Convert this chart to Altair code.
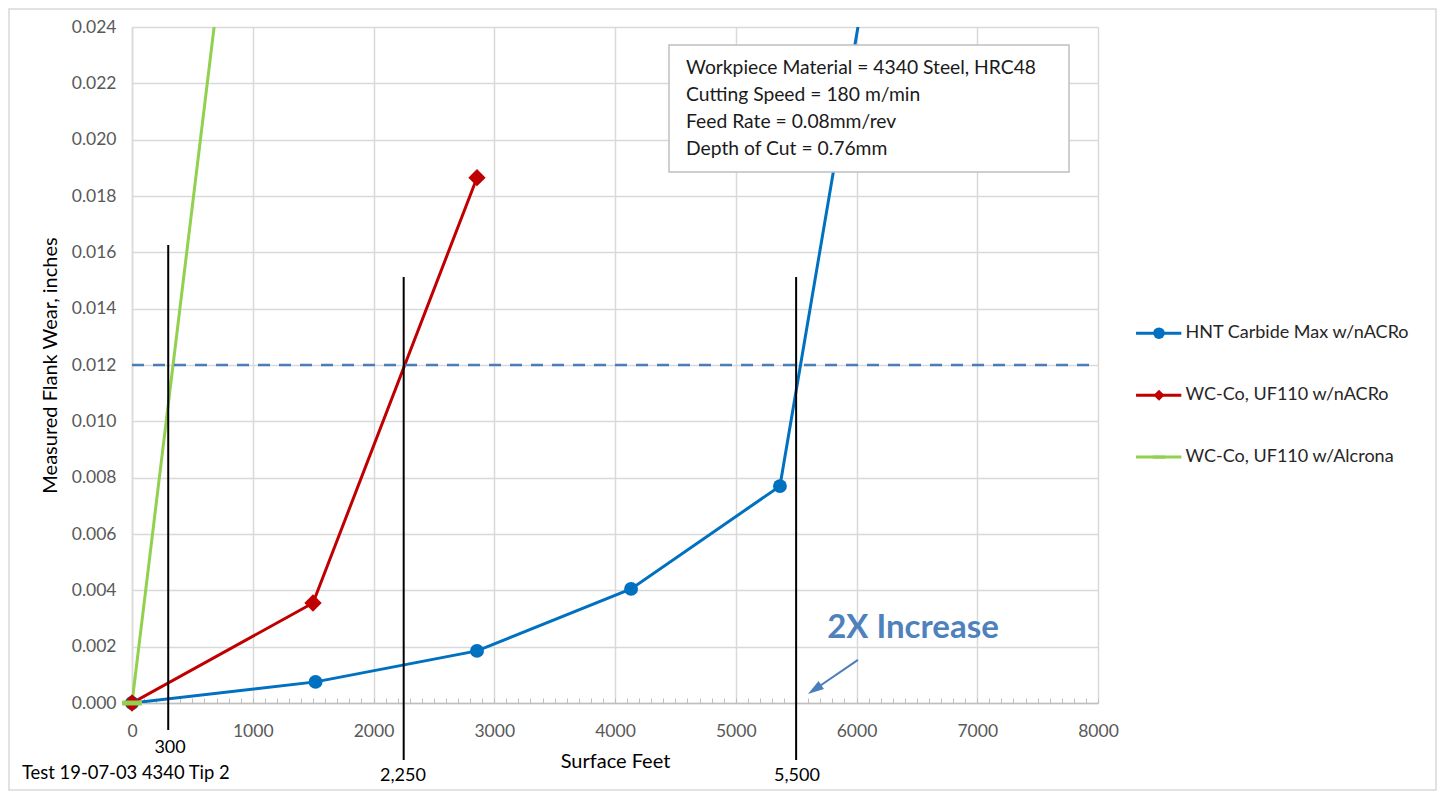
import altair as alt
import pandas as pd

FONT = "Lato"

# ---------------- data ----------------
series = ["HNT Carbide Max w/nACRo", "WC-Co, UF110 w/nACRo", "WC-Co, UF110 w/Alcrona"]
colors = ["#0070c0", "#c00000", "#92d050"]

blue_x = [0, 1520, 2857, 4133, 5366, 6650]
blue_y = [0.0, 0.00075, 0.00185, 0.00405, 0.0077, 0.0401]
red_x = [0, 1499, 2857]
red_y = [0.0, 0.00355, 0.01865]
green_x = [0, 1490]
green_y = [0.0, 0.0526]

threshold = 0.012
marker_x = [300, 2250, 5500]
marker_labels = ["300", "2,250", "5,500"]
note_text = "Test 19-07-03 4340 Tip 2"
info_lines = [
    "Workpiece Material = 4340 Steel, HRC48",
    "Cutting Speed = 180 m/min",
    "Feed Rate = 0.08mm/rev",
    "Depth of Cut = 0.76mm",
]
callout = "2X Increase"

x_ticks = [0, 1000, 2000, 3000, 4000, 5000, 6000, 7000, 8000]
minor_ticks = list(range(0, 8001, 100))
y_ticks = [0.0, 0.002, 0.004, 0.006, 0.008, 0.010, 0.012, 0.014, 0.016, 0.018, 0.020, 0.022, 0.024]

# ---------------- tables ----------------
rows = []
for name, xs_, ys_ in zip(series, [blue_x, red_x, green_x], [blue_y, red_y, green_y]):
    for a, b in zip(xs_, ys_):
        rows.append({"series": name, "x": a, "y": b})
df = pd.DataFrame(rows)

W, H = 966, 676
xs = alt.Scale(domain=[0, 8000], nice=False, zero=False)
ys = alt.Scale(domain=[0, 0.024], nice=False, zero=False)
cscale = alt.Scale(domain=series, range=colors)

yaxis = alt.Axis(values=y_ticks, format=".3f", grid=True, gridColor="#d9d9d9", gridWidth=1.5,
                 domainColor="#d9d9d9", domainWidth=1.5, ticks=False, labelPadding=16,
                 labelFont=FONT, labelFontSize=17.5, labelColor="#595959",
                 title="Measured Flank Wear, inches", titleFont=FONT, titleFontSize=20,
                 titleFontWeight="normal", titleColor="#000000", titlePadding=11)
xaxis_main = alt.Axis(values=x_ticks, format="d", grid=True, gridColor="#d9d9d9", gridWidth=1.5,
                      domainColor="#bfbfbf", domainWidth=1.5, ticks=False, labelPadding=19,
                      labelFlush=False, labelFont=FONT, labelFontSize=17.5, labelColor="#595959",
                      title="Surface Feet", titleFont=FONT, titleFontSize=20,
                      titleFontWeight="normal", titleColor="#000000", titlePadding=12)
xaxis_minor = alt.Axis(orient="top", offset=-H, values=minor_ticks, labels=False, domain=False,
                       grid=False, ticks=True, tickSize=5, tickColor="#bfbfbf", tickWidth=1, title="")

lines = alt.Chart(df).mark_line(strokeWidth=3, clip=True).encode(
    x=alt.X("x:Q", scale=xs, axis=xaxis_main),
    y=alt.Y("y:Q", scale=ys, axis=yaxis),
    color=alt.Color("series:N", scale=cscale, legend=None))

# threshold dashed line (hosts minor tick axis)
thr_df = pd.DataFrame({"x0": [0], "x1": [8000], "y": [threshold]})
thr = alt.Chart(thr_df).mark_rule(color="#4a7ebb", strokeWidth=2.5, strokeDash=[12, 9]).encode(
    x=alt.X("x0:Q", scale=xs, axis=xaxis_minor), x2="x1:Q",
    y=alt.Y("y:Q", scale=ys, axis=None))

DASH = "M-1,-0.25H1V0.25H-1Z"
pt_styles = [("circle", 193), ("diamond", 300), (DASH, 400)]
point_layers = []
for name, col, (shp, sz) in zip(series, colors, pt_styles):
    point_layers.append(
        alt.Chart(df).transform_filter(
            (alt.datum.series == name) & (alt.datum.y <= 0.024)
        ).mark_point(filled=True, opacity=1, shape=shp, size=sz, color=col).encode(
            x=alt.X("x:Q", scale=xs, axis=None), y=alt.Y("y:Q", scale=ys, axis=None)))

# vertical marker lines
v_df = pd.DataFrame({"x": marker_x, "top": [0.01626, 0.01512, 0.01512],
                     "bot": [-0.00096, -0.00202, -0.00202]})
vlines = alt.Chart(v_df).mark_rule(color="black", strokeWidth=2).encode(
    x=alt.X("x:Q", scale=xs, axis=None), y=alt.Y("top:Q", scale=ys, axis=None), y2="bot:Q")

lab_df = pd.DataFrame({"t": marker_labels, "x": [315, 2244, 5507],
                       "y": [-0.0016, -0.00259, -0.00259]})
vlabels = alt.Chart(lab_df).mark_text(font=FONT, fontSize=18, color="#000000",
                                      align="center", baseline="middle").encode(
    x=alt.X("x:Q", scale=xs, axis=None), y=alt.Y("y:Q", scale=ys, axis=None), text="t:N")

note_df = pd.DataFrame({"t": [note_text], "x": [-911], "y": [-0.00248]})
note = alt.Chart(note_df).mark_text(font=FONT, fontSize=18.4, color="#000000",
                                    align="left", baseline="middle").encode(
    x=alt.X("x:Q", scale=xs, axis=None), y=alt.Y("y:Q", scale=ys, axis=None), text="t:N")

# info box
box_df = pd.DataFrame({"x0": [4447], "x1": [7760], "y0": [0.01885], "y1": [0.02336]})
box = alt.Chart(box_df).mark_rect(fill="white", stroke="#bfbfbf", strokeWidth=1.5).encode(
    x=alt.X("x0:Q", scale=xs, axis=None), x2="x1:Q",
    y=alt.Y("y0:Q", scale=ys, axis=None), y2="y1:Q")
info_df = pd.DataFrame({"t": info_lines, "x": [4588] * 4,
                        "y": [0.02254, 0.02158, 0.02062, 0.01967]})
info = alt.Chart(info_df).mark_text(font=FONT, fontSize=19.3, color="#1a1a1a",
                                    align="left", baseline="middle").encode(
    x=alt.X("x:Q", scale=xs, axis=None), y=alt.Y("y:Q", scale=ys, axis=None), text="t:N")

# callout + arrow
call_df = pd.DataFrame({"t": [callout], "x": [6468], "y": [0.00266]})
call = alt.Chart(call_df).mark_text(font=FONT, fontSize=33, fontWeight="bold", color="#4f81bd",
                                    align="center", baseline="middle").encode(
    x=alt.X("x:Q", scale=xs, axis=None), y=alt.Y("y:Q", scale=ys, axis=None), text="t:N")
arr_df = pd.DataFrame({"x0": [6012], "y0": [0.00153], "x1": [5653], "y1": [0.00048]})
arrow = alt.Chart(arr_df).mark_rule(color="#4a7ebb", strokeWidth=2).encode(
    x=alt.X("x0:Q", scale=xs, axis=None), y=alt.Y("y0:Q", scale=ys, axis=None),
    x2="x1:Q", y2="y1:Q")
head = alt.Chart(arr_df).mark_point(filled=True, opacity=1, color="#4a7ebb",
                                    shape="M0,-1L0.6,1L-0.6,1Z", size=256, angle=236).encode(
    x=alt.X("x1:Q", scale=xs, axis=None), y=alt.Y("y1:Q", scale=ys, axis=None))

# custom legend
leg_df = pd.DataFrame({"series": series, "y": [0.01313, 0.01093, 0.00873],
                       "lx0": [8315] * 3, "lx1": [8690] * 3, "mx": [8505] * 3, "tx": [8725] * 3})
leg_lines = alt.Chart(leg_df).mark_rule(strokeWidth=3).encode(
    x=alt.X("lx0:Q", scale=xs, axis=None), x2="lx1:Q",
    y=alt.Y("y:Q", scale=ys, axis=None),
    color=alt.Color("series:N", scale=cscale, legend=None))
leg_pts = []
for name, col, (shp, sz) in zip(series, colors, [("circle", 133), ("diamond", 121), (DASH, 150)]):
    leg_pts.append(alt.Chart(leg_df).transform_filter(alt.datum.series == name).mark_point(
        filled=True, opacity=1, shape=shp, size=sz, color=col).encode(
        x=alt.X("mx:Q", scale=xs, axis=None), y=alt.Y("y:Q", scale=ys, axis=None)))
leg_text = alt.Chart(leg_df).mark_text(font=FONT, fontSize=18, color="#262626",
                                       align="left", baseline="middle").encode(
    x=alt.X("tx:Q", scale=xs, axis=None), y=alt.Y("y:Q", scale=ys, axis=None), text="series:N")

border = alt.Chart(thr_df).mark_rect(fillOpacity=0, stroke="#d9d9d9", strokeWidth=1.5).encode(
    x=alt.value(-123), x2=alt.value(1304), y=alt.value(-18), y2=alt.value(763))

chart = alt.layer(
    lines, thr, *point_layers, vlines, vlabels, note, box, info, call, arrow, head,
    leg_lines, *leg_pts, leg_text, border
).resolve_axis(x="independent", y="independent").properties(
    width=W, height=H,
    autosize=alt.AutoSizeParams(type="none"),
    padding={"left": 124, "top": 19, "right": 340, "bottom": 89},
    background="white",
).configure_view(stroke=None)

chart.save("out.html", embed_options={"renderer": "svg", "actions": False})
